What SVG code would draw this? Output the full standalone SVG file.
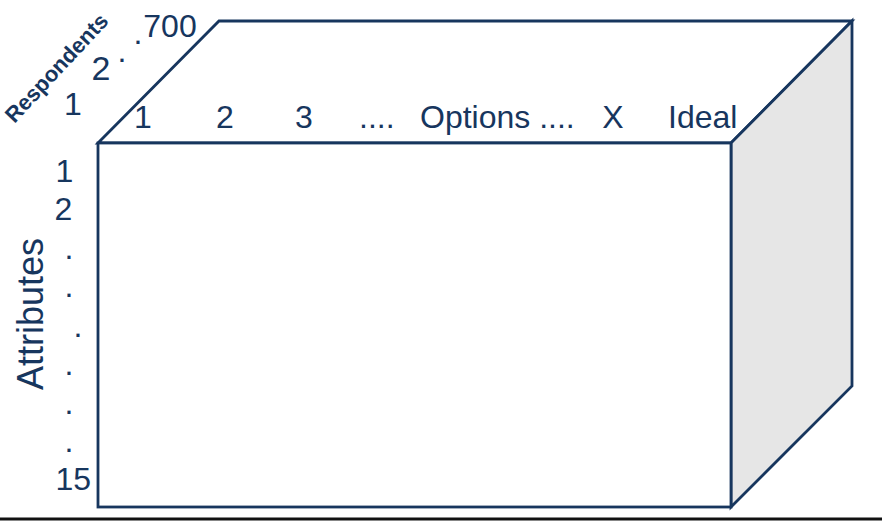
<svg xmlns="http://www.w3.org/2000/svg" width="882" height="522" viewBox="0 0 882 522">
<style>
.e{stroke:#17365e;stroke-width:2.8;stroke-linejoin:miter}
.w{fill:#fff}
.g{fill:#e6e6e6}
.t{font-family:"Liberation Sans",Arial,sans-serif;fill:#17365e;font-size:32px}
</style>
<rect width="882" height="522" fill="#fff"/>
<g id="cube">
<polygon points="98,143 219,21 852,21 731,143" class="e w"/>
<polygon points="731,143 852,21 852,386 731,507" class="e g"/>
<rect x="98" y="143" width="633" height="364" class="e w"/>
</g>
<g id="options-labels" class="t">
<text x="143" y="128" text-anchor="middle">1</text>
<text x="225" y="128" text-anchor="middle">2</text>
<text x="304" y="128" text-anchor="middle">3</text>
<text x="359" y="128">....</text>
<text x="420" y="128">Options ....</text>
<text x="613" y="128" text-anchor="middle">X</text>
<text x="668" y="128">Ideal</text>
</g>
<g id="respondents-labels" class="t">
<text transform="translate(62,73) rotate(-47)" text-anchor="middle" style="font-size:22px;font-weight:bold">Respondents</text>
<text x="73" y="115" text-anchor="middle">1</text>
<text x="101" y="80" text-anchor="middle" style="font-size:34px">2</text>
<text x="122" y="62" text-anchor="middle">.</text>
<text x="138" y="44" text-anchor="middle">.</text>
<text x="170" y="37" text-anchor="middle">700</text>
</g>
<g id="attributes-labels" class="t">
<text x="64.5" y="182" text-anchor="middle">1</text>
<text x="63.5" y="220" text-anchor="middle">2</text>
<text x="69" y="259" text-anchor="middle">.</text>
<text x="69" y="297" text-anchor="middle">.</text>
<text x="78" y="337" text-anchor="middle">.</text>
<text x="69" y="375" text-anchor="middle">.</text>
<text x="69" y="414" text-anchor="middle">.</text>
<text x="69" y="452" text-anchor="middle">.</text>
<text x="91" y="490" text-anchor="end">15</text>
<text transform="translate(43,314) rotate(-90)" text-anchor="middle" style="font-size:36px">Attributes</text>
</g>
<line x1="0" y1="519" x2="882" y2="519" stroke="#111" stroke-width="3"/>
</svg>
